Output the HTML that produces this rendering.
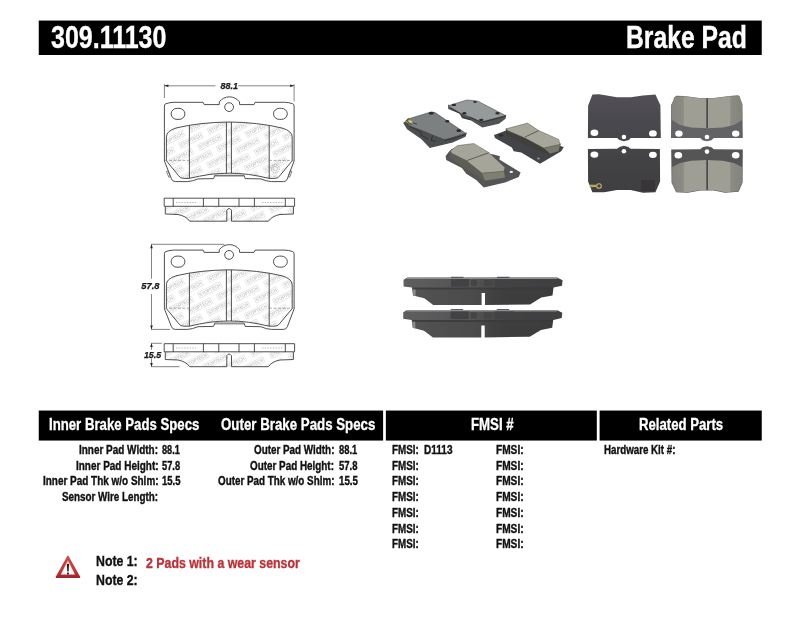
<!DOCTYPE html>
<html>
<head>
<meta charset="utf-8">
<title>309.11130 Brake Pad</title>
<style>
html,body{margin:0;padding:0;background:#fff;}
body{width:800px;height:619px;position:relative;overflow:hidden;font-family:"Liberation Sans",sans-serif;}
.bar{position:absolute;background:#000;}
.t{position:absolute;white-space:nowrap;font-weight:bold;transform-origin:0 0;line-height:normal;font-family:"Liberation Sans",sans-serif;}
svg{position:absolute;left:0;top:0;}
</style>
</head>
<body>
<svg width="800" height="619" viewBox="0 0 800 619">
<rect x="38.75" y="20.55" width="723" height="34.45" fill="#000"/>
<rect x="38.75" y="410.55" width="344.35" height="30" fill="#000"/>
<rect x="385.85" y="410.55" width="210.95" height="30" fill="#000"/>
<rect x="599.6" y="410.55" width="162.15" height="30" fill="#000"/>
</svg>
<svg width="800" height="619" viewBox="0 0 800 619">
<defs>
  <filter id="soft" x="-5%" y="-5%" width="110%" height="110%"><feGaussianBlur stdDeviation="0.42"/></filter>
  <clipPath id="fr"><path d="M166.4,160.8 L166.4,137 Q166.4,131 176,128 Q200,122.3 229,122 Q258,122.3 282,128 Q292.2,131 292.2,137 L292.2,160.8 L280.1,175.3 Q278.4,178.4 274.8,178.4 L269.1,178.4 Q259.4,176 248.4,174.4 Q238.4,173.2 229.2,173.2 Q220,173.2 210,174.4 Q199,176 189.3,178.4 L183.6,178.4 Q180,178.4 178.3,175.3 Z"/></clipPath>
  <clipPath id="sd"><path d="M165.3,206.6 L165.3,214 L178,214.5 Q186,216 189.7,221.2 L268.4,221.2 Q272,216 280,214.5 L293.4,214 L293.4,206.6 Z"/></clipPath>
  <g id="wm" font-family="Liberation Sans, sans-serif" font-weight="bold" font-size="5" fill="#c8c8c8" stroke="none">
    <g transform="rotate(-27 229 150)">
<rect x="139" y="91.4" width="25" height="5.8" fill="none" stroke="#cfcfcf" stroke-width="0.45"/><text x="140" y="96" textLength="23" lengthAdjust="spacingAndGlyphs">STOPTECH</text>
<rect x="171" y="91.4" width="25" height="5.8" fill="none" stroke="#cfcfcf" stroke-width="0.45"/><text x="172" y="96" textLength="23" lengthAdjust="spacingAndGlyphs">STOPTECH</text>
<rect x="203" y="91.4" width="25" height="5.8" fill="none" stroke="#cfcfcf" stroke-width="0.45"/><text x="204" y="96" textLength="23" lengthAdjust="spacingAndGlyphs">STOPTECH</text>
<rect x="235" y="91.4" width="25" height="5.8" fill="none" stroke="#cfcfcf" stroke-width="0.45"/><text x="236" y="96" textLength="23" lengthAdjust="spacingAndGlyphs">STOPTECH</text>
<rect x="267" y="91.4" width="25" height="5.8" fill="none" stroke="#cfcfcf" stroke-width="0.45"/><text x="268" y="96" textLength="23" lengthAdjust="spacingAndGlyphs">STOPTECH</text>
<rect x="299" y="91.4" width="25" height="5.8" fill="none" stroke="#cfcfcf" stroke-width="0.45"/><text x="300" y="96" textLength="23" lengthAdjust="spacingAndGlyphs">STOPTECH</text>
<rect x="331" y="91.4" width="25" height="5.8" fill="none" stroke="#cfcfcf" stroke-width="0.45"/><text x="332" y="96" textLength="23" lengthAdjust="spacingAndGlyphs">STOPTECH</text>
<rect x="155" y="101.4" width="25" height="5.8" fill="none" stroke="#cfcfcf" stroke-width="0.45"/><text x="156" y="106" textLength="23" lengthAdjust="spacingAndGlyphs">STOPTECH</text>
<rect x="187" y="101.4" width="25" height="5.8" fill="none" stroke="#cfcfcf" stroke-width="0.45"/><text x="188" y="106" textLength="23" lengthAdjust="spacingAndGlyphs">STOPTECH</text>
<rect x="219" y="101.4" width="25" height="5.8" fill="none" stroke="#cfcfcf" stroke-width="0.45"/><text x="220" y="106" textLength="23" lengthAdjust="spacingAndGlyphs">STOPTECH</text>
<rect x="251" y="101.4" width="25" height="5.8" fill="none" stroke="#cfcfcf" stroke-width="0.45"/><text x="252" y="106" textLength="23" lengthAdjust="spacingAndGlyphs">STOPTECH</text>
<rect x="283" y="101.4" width="25" height="5.8" fill="none" stroke="#cfcfcf" stroke-width="0.45"/><text x="284" y="106" textLength="23" lengthAdjust="spacingAndGlyphs">STOPTECH</text>
<rect x="315" y="101.4" width="25" height="5.8" fill="none" stroke="#cfcfcf" stroke-width="0.45"/><text x="316" y="106" textLength="23" lengthAdjust="spacingAndGlyphs">STOPTECH</text>
<rect x="347" y="101.4" width="25" height="5.8" fill="none" stroke="#cfcfcf" stroke-width="0.45"/><text x="348" y="106" textLength="23" lengthAdjust="spacingAndGlyphs">STOPTECH</text>
<rect x="139" y="111.4" width="25" height="5.8" fill="none" stroke="#cfcfcf" stroke-width="0.45"/><text x="140" y="116" textLength="23" lengthAdjust="spacingAndGlyphs">STOPTECH</text>
<rect x="171" y="111.4" width="25" height="5.8" fill="none" stroke="#cfcfcf" stroke-width="0.45"/><text x="172" y="116" textLength="23" lengthAdjust="spacingAndGlyphs">STOPTECH</text>
<rect x="203" y="111.4" width="25" height="5.8" fill="none" stroke="#cfcfcf" stroke-width="0.45"/><text x="204" y="116" textLength="23" lengthAdjust="spacingAndGlyphs">STOPTECH</text>
<rect x="235" y="111.4" width="25" height="5.8" fill="none" stroke="#cfcfcf" stroke-width="0.45"/><text x="236" y="116" textLength="23" lengthAdjust="spacingAndGlyphs">STOPTECH</text>
<rect x="267" y="111.4" width="25" height="5.8" fill="none" stroke="#cfcfcf" stroke-width="0.45"/><text x="268" y="116" textLength="23" lengthAdjust="spacingAndGlyphs">STOPTECH</text>
<rect x="299" y="111.4" width="25" height="5.8" fill="none" stroke="#cfcfcf" stroke-width="0.45"/><text x="300" y="116" textLength="23" lengthAdjust="spacingAndGlyphs">STOPTECH</text>
<rect x="331" y="111.4" width="25" height="5.8" fill="none" stroke="#cfcfcf" stroke-width="0.45"/><text x="332" y="116" textLength="23" lengthAdjust="spacingAndGlyphs">STOPTECH</text>
<rect x="155" y="121.4" width="25" height="5.8" fill="none" stroke="#cfcfcf" stroke-width="0.45"/><text x="156" y="126" textLength="23" lengthAdjust="spacingAndGlyphs">STOPTECH</text>
<rect x="187" y="121.4" width="25" height="5.8" fill="none" stroke="#cfcfcf" stroke-width="0.45"/><text x="188" y="126" textLength="23" lengthAdjust="spacingAndGlyphs">STOPTECH</text>
<rect x="219" y="121.4" width="25" height="5.8" fill="none" stroke="#cfcfcf" stroke-width="0.45"/><text x="220" y="126" textLength="23" lengthAdjust="spacingAndGlyphs">STOPTECH</text>
<rect x="251" y="121.4" width="25" height="5.8" fill="none" stroke="#cfcfcf" stroke-width="0.45"/><text x="252" y="126" textLength="23" lengthAdjust="spacingAndGlyphs">STOPTECH</text>
<rect x="283" y="121.4" width="25" height="5.8" fill="none" stroke="#cfcfcf" stroke-width="0.45"/><text x="284" y="126" textLength="23" lengthAdjust="spacingAndGlyphs">STOPTECH</text>
<rect x="315" y="121.4" width="25" height="5.8" fill="none" stroke="#cfcfcf" stroke-width="0.45"/><text x="316" y="126" textLength="23" lengthAdjust="spacingAndGlyphs">STOPTECH</text>
<rect x="347" y="121.4" width="25" height="5.8" fill="none" stroke="#cfcfcf" stroke-width="0.45"/><text x="348" y="126" textLength="23" lengthAdjust="spacingAndGlyphs">STOPTECH</text>
<rect x="139" y="131.4" width="25" height="5.8" fill="none" stroke="#cfcfcf" stroke-width="0.45"/><text x="140" y="136" textLength="23" lengthAdjust="spacingAndGlyphs">STOPTECH</text>
<rect x="171" y="131.4" width="25" height="5.8" fill="none" stroke="#cfcfcf" stroke-width="0.45"/><text x="172" y="136" textLength="23" lengthAdjust="spacingAndGlyphs">STOPTECH</text>
<rect x="203" y="131.4" width="25" height="5.8" fill="none" stroke="#cfcfcf" stroke-width="0.45"/><text x="204" y="136" textLength="23" lengthAdjust="spacingAndGlyphs">STOPTECH</text>
<rect x="235" y="131.4" width="25" height="5.8" fill="none" stroke="#cfcfcf" stroke-width="0.45"/><text x="236" y="136" textLength="23" lengthAdjust="spacingAndGlyphs">STOPTECH</text>
<rect x="267" y="131.4" width="25" height="5.8" fill="none" stroke="#cfcfcf" stroke-width="0.45"/><text x="268" y="136" textLength="23" lengthAdjust="spacingAndGlyphs">STOPTECH</text>
<rect x="299" y="131.4" width="25" height="5.8" fill="none" stroke="#cfcfcf" stroke-width="0.45"/><text x="300" y="136" textLength="23" lengthAdjust="spacingAndGlyphs">STOPTECH</text>
<rect x="331" y="131.4" width="25" height="5.8" fill="none" stroke="#cfcfcf" stroke-width="0.45"/><text x="332" y="136" textLength="23" lengthAdjust="spacingAndGlyphs">STOPTECH</text>
<rect x="155" y="141.4" width="25" height="5.8" fill="none" stroke="#cfcfcf" stroke-width="0.45"/><text x="156" y="146" textLength="23" lengthAdjust="spacingAndGlyphs">STOPTECH</text>
<rect x="187" y="141.4" width="25" height="5.8" fill="none" stroke="#cfcfcf" stroke-width="0.45"/><text x="188" y="146" textLength="23" lengthAdjust="spacingAndGlyphs">STOPTECH</text>
<rect x="219" y="141.4" width="25" height="5.8" fill="none" stroke="#cfcfcf" stroke-width="0.45"/><text x="220" y="146" textLength="23" lengthAdjust="spacingAndGlyphs">STOPTECH</text>
<rect x="251" y="141.4" width="25" height="5.8" fill="none" stroke="#cfcfcf" stroke-width="0.45"/><text x="252" y="146" textLength="23" lengthAdjust="spacingAndGlyphs">STOPTECH</text>
<rect x="283" y="141.4" width="25" height="5.8" fill="none" stroke="#cfcfcf" stroke-width="0.45"/><text x="284" y="146" textLength="23" lengthAdjust="spacingAndGlyphs">STOPTECH</text>
<rect x="315" y="141.4" width="25" height="5.8" fill="none" stroke="#cfcfcf" stroke-width="0.45"/><text x="316" y="146" textLength="23" lengthAdjust="spacingAndGlyphs">STOPTECH</text>
<rect x="347" y="141.4" width="25" height="5.8" fill="none" stroke="#cfcfcf" stroke-width="0.45"/><text x="348" y="146" textLength="23" lengthAdjust="spacingAndGlyphs">STOPTECH</text>
<rect x="139" y="151.4" width="25" height="5.8" fill="none" stroke="#cfcfcf" stroke-width="0.45"/><text x="140" y="156" textLength="23" lengthAdjust="spacingAndGlyphs">STOPTECH</text>
<rect x="171" y="151.4" width="25" height="5.8" fill="none" stroke="#cfcfcf" stroke-width="0.45"/><text x="172" y="156" textLength="23" lengthAdjust="spacingAndGlyphs">STOPTECH</text>
<rect x="203" y="151.4" width="25" height="5.8" fill="none" stroke="#cfcfcf" stroke-width="0.45"/><text x="204" y="156" textLength="23" lengthAdjust="spacingAndGlyphs">STOPTECH</text>
<rect x="235" y="151.4" width="25" height="5.8" fill="none" stroke="#cfcfcf" stroke-width="0.45"/><text x="236" y="156" textLength="23" lengthAdjust="spacingAndGlyphs">STOPTECH</text>
<rect x="267" y="151.4" width="25" height="5.8" fill="none" stroke="#cfcfcf" stroke-width="0.45"/><text x="268" y="156" textLength="23" lengthAdjust="spacingAndGlyphs">STOPTECH</text>
<rect x="299" y="151.4" width="25" height="5.8" fill="none" stroke="#cfcfcf" stroke-width="0.45"/><text x="300" y="156" textLength="23" lengthAdjust="spacingAndGlyphs">STOPTECH</text>
<rect x="331" y="151.4" width="25" height="5.8" fill="none" stroke="#cfcfcf" stroke-width="0.45"/><text x="332" y="156" textLength="23" lengthAdjust="spacingAndGlyphs">STOPTECH</text>
<rect x="155" y="161.4" width="25" height="5.8" fill="none" stroke="#cfcfcf" stroke-width="0.45"/><text x="156" y="166" textLength="23" lengthAdjust="spacingAndGlyphs">STOPTECH</text>
<rect x="187" y="161.4" width="25" height="5.8" fill="none" stroke="#cfcfcf" stroke-width="0.45"/><text x="188" y="166" textLength="23" lengthAdjust="spacingAndGlyphs">STOPTECH</text>
<rect x="219" y="161.4" width="25" height="5.8" fill="none" stroke="#cfcfcf" stroke-width="0.45"/><text x="220" y="166" textLength="23" lengthAdjust="spacingAndGlyphs">STOPTECH</text>
<rect x="251" y="161.4" width="25" height="5.8" fill="none" stroke="#cfcfcf" stroke-width="0.45"/><text x="252" y="166" textLength="23" lengthAdjust="spacingAndGlyphs">STOPTECH</text>
<rect x="283" y="161.4" width="25" height="5.8" fill="none" stroke="#cfcfcf" stroke-width="0.45"/><text x="284" y="166" textLength="23" lengthAdjust="spacingAndGlyphs">STOPTECH</text>
<rect x="315" y="161.4" width="25" height="5.8" fill="none" stroke="#cfcfcf" stroke-width="0.45"/><text x="316" y="166" textLength="23" lengthAdjust="spacingAndGlyphs">STOPTECH</text>
<rect x="347" y="161.4" width="25" height="5.8" fill="none" stroke="#cfcfcf" stroke-width="0.45"/><text x="348" y="166" textLength="23" lengthAdjust="spacingAndGlyphs">STOPTECH</text>
<rect x="139" y="171.4" width="25" height="5.8" fill="none" stroke="#cfcfcf" stroke-width="0.45"/><text x="140" y="176" textLength="23" lengthAdjust="spacingAndGlyphs">STOPTECH</text>
<rect x="171" y="171.4" width="25" height="5.8" fill="none" stroke="#cfcfcf" stroke-width="0.45"/><text x="172" y="176" textLength="23" lengthAdjust="spacingAndGlyphs">STOPTECH</text>
<rect x="203" y="171.4" width="25" height="5.8" fill="none" stroke="#cfcfcf" stroke-width="0.45"/><text x="204" y="176" textLength="23" lengthAdjust="spacingAndGlyphs">STOPTECH</text>
<rect x="235" y="171.4" width="25" height="5.8" fill="none" stroke="#cfcfcf" stroke-width="0.45"/><text x="236" y="176" textLength="23" lengthAdjust="spacingAndGlyphs">STOPTECH</text>
<rect x="267" y="171.4" width="25" height="5.8" fill="none" stroke="#cfcfcf" stroke-width="0.45"/><text x="268" y="176" textLength="23" lengthAdjust="spacingAndGlyphs">STOPTECH</text>
<rect x="299" y="171.4" width="25" height="5.8" fill="none" stroke="#cfcfcf" stroke-width="0.45"/><text x="300" y="176" textLength="23" lengthAdjust="spacingAndGlyphs">STOPTECH</text>
<rect x="331" y="171.4" width="25" height="5.8" fill="none" stroke="#cfcfcf" stroke-width="0.45"/><text x="332" y="176" textLength="23" lengthAdjust="spacingAndGlyphs">STOPTECH</text>
<rect x="155" y="181.4" width="25" height="5.8" fill="none" stroke="#cfcfcf" stroke-width="0.45"/><text x="156" y="186" textLength="23" lengthAdjust="spacingAndGlyphs">STOPTECH</text>
<rect x="187" y="181.4" width="25" height="5.8" fill="none" stroke="#cfcfcf" stroke-width="0.45"/><text x="188" y="186" textLength="23" lengthAdjust="spacingAndGlyphs">STOPTECH</text>
<rect x="219" y="181.4" width="25" height="5.8" fill="none" stroke="#cfcfcf" stroke-width="0.45"/><text x="220" y="186" textLength="23" lengthAdjust="spacingAndGlyphs">STOPTECH</text>
<rect x="251" y="181.4" width="25" height="5.8" fill="none" stroke="#cfcfcf" stroke-width="0.45"/><text x="252" y="186" textLength="23" lengthAdjust="spacingAndGlyphs">STOPTECH</text>
<rect x="283" y="181.4" width="25" height="5.8" fill="none" stroke="#cfcfcf" stroke-width="0.45"/><text x="284" y="186" textLength="23" lengthAdjust="spacingAndGlyphs">STOPTECH</text>
<rect x="315" y="181.4" width="25" height="5.8" fill="none" stroke="#cfcfcf" stroke-width="0.45"/><text x="316" y="186" textLength="23" lengthAdjust="spacingAndGlyphs">STOPTECH</text>
<rect x="347" y="181.4" width="25" height="5.8" fill="none" stroke="#cfcfcf" stroke-width="0.45"/><text x="348" y="186" textLength="23" lengthAdjust="spacingAndGlyphs">STOPTECH</text>
<rect x="139" y="191.4" width="25" height="5.8" fill="none" stroke="#cfcfcf" stroke-width="0.45"/><text x="140" y="196" textLength="23" lengthAdjust="spacingAndGlyphs">STOPTECH</text>
<rect x="171" y="191.4" width="25" height="5.8" fill="none" stroke="#cfcfcf" stroke-width="0.45"/><text x="172" y="196" textLength="23" lengthAdjust="spacingAndGlyphs">STOPTECH</text>
<rect x="203" y="191.4" width="25" height="5.8" fill="none" stroke="#cfcfcf" stroke-width="0.45"/><text x="204" y="196" textLength="23" lengthAdjust="spacingAndGlyphs">STOPTECH</text>
<rect x="235" y="191.4" width="25" height="5.8" fill="none" stroke="#cfcfcf" stroke-width="0.45"/><text x="236" y="196" textLength="23" lengthAdjust="spacingAndGlyphs">STOPTECH</text>
<rect x="267" y="191.4" width="25" height="5.8" fill="none" stroke="#cfcfcf" stroke-width="0.45"/><text x="268" y="196" textLength="23" lengthAdjust="spacingAndGlyphs">STOPTECH</text>
<rect x="299" y="191.4" width="25" height="5.8" fill="none" stroke="#cfcfcf" stroke-width="0.45"/><text x="300" y="196" textLength="23" lengthAdjust="spacingAndGlyphs">STOPTECH</text>
<rect x="331" y="191.4" width="25" height="5.8" fill="none" stroke="#cfcfcf" stroke-width="0.45"/><text x="332" y="196" textLength="23" lengthAdjust="spacingAndGlyphs">STOPTECH</text>
<rect x="155" y="201.4" width="25" height="5.8" fill="none" stroke="#cfcfcf" stroke-width="0.45"/><text x="156" y="206" textLength="23" lengthAdjust="spacingAndGlyphs">STOPTECH</text>
<rect x="187" y="201.4" width="25" height="5.8" fill="none" stroke="#cfcfcf" stroke-width="0.45"/><text x="188" y="206" textLength="23" lengthAdjust="spacingAndGlyphs">STOPTECH</text>
<rect x="219" y="201.4" width="25" height="5.8" fill="none" stroke="#cfcfcf" stroke-width="0.45"/><text x="220" y="206" textLength="23" lengthAdjust="spacingAndGlyphs">STOPTECH</text>
<rect x="251" y="201.4" width="25" height="5.8" fill="none" stroke="#cfcfcf" stroke-width="0.45"/><text x="252" y="206" textLength="23" lengthAdjust="spacingAndGlyphs">STOPTECH</text>
<rect x="283" y="201.4" width="25" height="5.8" fill="none" stroke="#cfcfcf" stroke-width="0.45"/><text x="284" y="206" textLength="23" lengthAdjust="spacingAndGlyphs">STOPTECH</text>
<rect x="315" y="201.4" width="25" height="5.8" fill="none" stroke="#cfcfcf" stroke-width="0.45"/><text x="316" y="206" textLength="23" lengthAdjust="spacingAndGlyphs">STOPTECH</text>
<rect x="347" y="201.4" width="25" height="5.8" fill="none" stroke="#cfcfcf" stroke-width="0.45"/><text x="348" y="206" textLength="23" lengthAdjust="spacingAndGlyphs">STOPTECH</text>
<rect x="139" y="211.4" width="25" height="5.8" fill="none" stroke="#cfcfcf" stroke-width="0.45"/><text x="140" y="216" textLength="23" lengthAdjust="spacingAndGlyphs">STOPTECH</text>
<rect x="171" y="211.4" width="25" height="5.8" fill="none" stroke="#cfcfcf" stroke-width="0.45"/><text x="172" y="216" textLength="23" lengthAdjust="spacingAndGlyphs">STOPTECH</text>
<rect x="203" y="211.4" width="25" height="5.8" fill="none" stroke="#cfcfcf" stroke-width="0.45"/><text x="204" y="216" textLength="23" lengthAdjust="spacingAndGlyphs">STOPTECH</text>
<rect x="235" y="211.4" width="25" height="5.8" fill="none" stroke="#cfcfcf" stroke-width="0.45"/><text x="236" y="216" textLength="23" lengthAdjust="spacingAndGlyphs">STOPTECH</text>
<rect x="267" y="211.4" width="25" height="5.8" fill="none" stroke="#cfcfcf" stroke-width="0.45"/><text x="268" y="216" textLength="23" lengthAdjust="spacingAndGlyphs">STOPTECH</text>
<rect x="299" y="211.4" width="25" height="5.8" fill="none" stroke="#cfcfcf" stroke-width="0.45"/><text x="300" y="216" textLength="23" lengthAdjust="spacingAndGlyphs">STOPTECH</text>
<rect x="331" y="211.4" width="25" height="5.8" fill="none" stroke="#cfcfcf" stroke-width="0.45"/><text x="332" y="216" textLength="23" lengthAdjust="spacingAndGlyphs">STOPTECH</text>
<rect x="155" y="221.4" width="25" height="5.8" fill="none" stroke="#cfcfcf" stroke-width="0.45"/><text x="156" y="226" textLength="23" lengthAdjust="spacingAndGlyphs">STOPTECH</text>
<rect x="187" y="221.4" width="25" height="5.8" fill="none" stroke="#cfcfcf" stroke-width="0.45"/><text x="188" y="226" textLength="23" lengthAdjust="spacingAndGlyphs">STOPTECH</text>
<rect x="219" y="221.4" width="25" height="5.8" fill="none" stroke="#cfcfcf" stroke-width="0.45"/><text x="220" y="226" textLength="23" lengthAdjust="spacingAndGlyphs">STOPTECH</text>
<rect x="251" y="221.4" width="25" height="5.8" fill="none" stroke="#cfcfcf" stroke-width="0.45"/><text x="252" y="226" textLength="23" lengthAdjust="spacingAndGlyphs">STOPTECH</text>
<rect x="283" y="221.4" width="25" height="5.8" fill="none" stroke="#cfcfcf" stroke-width="0.45"/><text x="284" y="226" textLength="23" lengthAdjust="spacingAndGlyphs">STOPTECH</text>
<rect x="315" y="221.4" width="25" height="5.8" fill="none" stroke="#cfcfcf" stroke-width="0.45"/><text x="316" y="226" textLength="23" lengthAdjust="spacingAndGlyphs">STOPTECH</text>
<rect x="347" y="221.4" width="25" height="5.8" fill="none" stroke="#cfcfcf" stroke-width="0.45"/><text x="348" y="226" textLength="23" lengthAdjust="spacingAndGlyphs">STOPTECH</text>
<rect x="139" y="231.4" width="25" height="5.8" fill="none" stroke="#cfcfcf" stroke-width="0.45"/><text x="140" y="236" textLength="23" lengthAdjust="spacingAndGlyphs">STOPTECH</text>
<rect x="171" y="231.4" width="25" height="5.8" fill="none" stroke="#cfcfcf" stroke-width="0.45"/><text x="172" y="236" textLength="23" lengthAdjust="spacingAndGlyphs">STOPTECH</text>
<rect x="203" y="231.4" width="25" height="5.8" fill="none" stroke="#cfcfcf" stroke-width="0.45"/><text x="204" y="236" textLength="23" lengthAdjust="spacingAndGlyphs">STOPTECH</text>
<rect x="235" y="231.4" width="25" height="5.8" fill="none" stroke="#cfcfcf" stroke-width="0.45"/><text x="236" y="236" textLength="23" lengthAdjust="spacingAndGlyphs">STOPTECH</text>
<rect x="267" y="231.4" width="25" height="5.8" fill="none" stroke="#cfcfcf" stroke-width="0.45"/><text x="268" y="236" textLength="23" lengthAdjust="spacingAndGlyphs">STOPTECH</text>
<rect x="299" y="231.4" width="25" height="5.8" fill="none" stroke="#cfcfcf" stroke-width="0.45"/><text x="300" y="236" textLength="23" lengthAdjust="spacingAndGlyphs">STOPTECH</text>
<rect x="331" y="231.4" width="25" height="5.8" fill="none" stroke="#cfcfcf" stroke-width="0.45"/><text x="332" y="236" textLength="23" lengthAdjust="spacingAndGlyphs">STOPTECH</text>
<rect x="155" y="241.4" width="25" height="5.8" fill="none" stroke="#cfcfcf" stroke-width="0.45"/><text x="156" y="246" textLength="23" lengthAdjust="spacingAndGlyphs">STOPTECH</text>
<rect x="187" y="241.4" width="25" height="5.8" fill="none" stroke="#cfcfcf" stroke-width="0.45"/><text x="188" y="246" textLength="23" lengthAdjust="spacingAndGlyphs">STOPTECH</text>
<rect x="219" y="241.4" width="25" height="5.8" fill="none" stroke="#cfcfcf" stroke-width="0.45"/><text x="220" y="246" textLength="23" lengthAdjust="spacingAndGlyphs">STOPTECH</text>
<rect x="251" y="241.4" width="25" height="5.8" fill="none" stroke="#cfcfcf" stroke-width="0.45"/><text x="252" y="246" textLength="23" lengthAdjust="spacingAndGlyphs">STOPTECH</text>
<rect x="283" y="241.4" width="25" height="5.8" fill="none" stroke="#cfcfcf" stroke-width="0.45"/><text x="284" y="246" textLength="23" lengthAdjust="spacingAndGlyphs">STOPTECH</text>
<rect x="315" y="241.4" width="25" height="5.8" fill="none" stroke="#cfcfcf" stroke-width="0.45"/><text x="316" y="246" textLength="23" lengthAdjust="spacingAndGlyphs">STOPTECH</text>
<rect x="347" y="241.4" width="25" height="5.8" fill="none" stroke="#cfcfcf" stroke-width="0.45"/><text x="348" y="246" textLength="23" lengthAdjust="spacingAndGlyphs">STOPTECH</text>
<rect x="139" y="251.4" width="25" height="5.8" fill="none" stroke="#cfcfcf" stroke-width="0.45"/><text x="140" y="256" textLength="23" lengthAdjust="spacingAndGlyphs">STOPTECH</text>
<rect x="171" y="251.4" width="25" height="5.8" fill="none" stroke="#cfcfcf" stroke-width="0.45"/><text x="172" y="256" textLength="23" lengthAdjust="spacingAndGlyphs">STOPTECH</text>
<rect x="203" y="251.4" width="25" height="5.8" fill="none" stroke="#cfcfcf" stroke-width="0.45"/><text x="204" y="256" textLength="23" lengthAdjust="spacingAndGlyphs">STOPTECH</text>
<rect x="235" y="251.4" width="25" height="5.8" fill="none" stroke="#cfcfcf" stroke-width="0.45"/><text x="236" y="256" textLength="23" lengthAdjust="spacingAndGlyphs">STOPTECH</text>
<rect x="267" y="251.4" width="25" height="5.8" fill="none" stroke="#cfcfcf" stroke-width="0.45"/><text x="268" y="256" textLength="23" lengthAdjust="spacingAndGlyphs">STOPTECH</text>
<rect x="299" y="251.4" width="25" height="5.8" fill="none" stroke="#cfcfcf" stroke-width="0.45"/><text x="300" y="256" textLength="23" lengthAdjust="spacingAndGlyphs">STOPTECH</text>
<rect x="331" y="251.4" width="25" height="5.8" fill="none" stroke="#cfcfcf" stroke-width="0.45"/><text x="332" y="256" textLength="23" lengthAdjust="spacingAndGlyphs">STOPTECH</text>
    </g>
  </g>
  <g id="front" fill="none" stroke="#3c3c3c" stroke-width="0.9" stroke-linejoin="round">
    <g clip-path="url(#fr)"><use href="#wm"/></g>
    <!-- backing plate -->
    <path d="M164.4,106 Q164.4,104.1 166,103.7 Q170,102.3 174,102.3 L203.1,102.3 L204.2,104.6 L219.2,104.6 L219.3,101.9 A12.6,12.6 0 0 1 239.5,101.9 L239.6,104.6 L254,104.6 L255.1,102.3 L284.6,102.3 Q288.6,102.3 292.5,103.7 Q294.1,104.1 294.1,106 L294.1,161 L287.3,179 Q286.2,181.6 283.6,181.6 L271.3,181.6 Q266.8,181.4 260.8,178.9 L245.2,178.6 L244,175.3 L214.8,175.3 L213.6,178.6 L198,178.9 Q192,181.4 187.5,181.6 L175.2,181.6 Q172.6,181.6 171.5,179 L164.4,161 Z"/>
    <!-- friction -->
    <path d="M166.4,160.8 L166.4,137 Q166.4,131 176,128 Q200,122.3 229,122 Q258,122.3 282,128 Q292.2,131 292.2,137 L292.2,160.8 L280.1,175.3 Q278.4,178.4 274.8,178.4 L269.1,178.4 Q259.4,176 248.4,174.4 Q238.4,173.2 229.2,173.2 Q220,173.2 210,174.4 Q199,176 189.3,178.4 L183.6,178.4 Q180,178.4 178.3,175.3 Z"/>
    <path d="M215,176.3 H243.8" stroke="#888" stroke-width="0.7"/>
    <line x1="189.4" y1="125.3" x2="189.4" y2="178.4"/>
    <line x1="269.2" y1="125.3" x2="269.2" y2="178.4"/>
    <path d="M226.4,122 L226.4,173.2 M231.4,173.2 L231.4,122"/>
    <path d="M164.4,160.4 H190 M269,160.4 H294.1" stroke-dasharray="3 1.5" stroke-width="0.6" stroke="#777"/>
    <circle cx="229.1" cy="107.1" r="4.4"/>
    <rect x="171.1" y="108.3" width="13.8" height="11.1" rx="5.9" ry="5.55"/>
    <rect x="273.5" y="108.3" width="13.8" height="11.1" rx="5.9" ry="5.55"/>
  </g>
  <g id="side" fill="none" stroke="#3c3c3c" stroke-width="0.9" stroke-linejoin="round">
    <g clip-path="url(#sd)"><use href="#wm" transform="translate(6 40)"/></g>
    <rect x="164.2" y="198.2" width="130.4" height="8.1"/>
    <path d="M173.2,198.1 V206.6 M203.4,198.1 V206.6 M218.75,198.1 V206.6 M239,198.1 V206.6 M254.4,198.1 V206.6 M285.3,198.1 V206.6"/>
    <path d="M165.3,206.6 L165.3,214 L178,214.5 Q186,216 189.7,221.2 L226.8,221.2 L226.8,210.2 Q229.15,206.8 231.5,210.2 L231.5,221.2 L268.4,221.2 Q272,216 280,214.5 L293.4,214 L293.4,206.6"/>
    <path d="M176,202.5 H196 M262,202.5 H283" stroke-dasharray="1.5 1.2" stroke-width="0.5" stroke="#777"/>
  </g>
</defs>
<g filter="url(#soft)">
  <!-- drawing 1 -->
  <use href="#front"/>
  <use href="#side"/>
  <!-- clip tabs + wear indicator on drawing 1 -->
  <g fill="none" stroke="#555" stroke-width="0.7">
    <path d="M166.6,171.4 L168.2,171 L170.3,176.6 L168.8,177.3 Z"/>
    <path d="M291.9,171.4 L290.3,171 L288.2,176.6 L289.7,177.3 Z"/>
    <circle cx="275.2" cy="168.6" r="4.1" stroke="#8a8a8a" stroke-dasharray="1.6 0.9"/>
    <circle cx="275.2" cy="168.6" r="2.2" stroke="#aaa"/>
  </g>
  <!-- drawing 2 -->
  <use href="#front" transform="translate(0 147.8)"/>
  <use href="#side" transform="translate(0 145.5)"/>
  <!-- dimension 88.1 -->
  <g stroke="#5a5a5a" stroke-width="0.75" fill="none">
    <path d="M164.4,84.2 V98 M294.1,84.2 V101.3"/>
    <path d="M164.4,85.8 H215.4 M238.2,85.8 H294.1"/>
  </g>
  <path d="M164.4,85.8 l4,-1.3 v2.6 z M294.1,85.8 l-4,-1.3 v2.6 z" fill="#222"/>
  <!-- dimension 57.8 -->
  <g stroke="#5a5a5a" stroke-width="0.75" fill="none">
    <path d="M151.5,244.3 V278.7 M151.5,294 V329.4"/>
    <path d="M151.2,244.3 H224.5 M151.2,329.4 H170"/>
  </g>
  <path d="M151.5,244.3 l-1.3,4 h2.6 z M151.5,329.4 l-1.3,-4 h2.6 z" fill="#222"/>
  <!-- dimension 15.5 -->
  <g stroke="#5a5a5a" stroke-width="0.75" fill="none">
    <path d="M151.5,343.3 V349.8 M151.5,358.4 V366.7"/>
    <path d="M151.2,343.3 H161.8 M151.2,366.7 H179.6"/>
  </g>
  <path d="M151.5,343.3 l-1.3,3.6 h2.6 z M151.5,366.7 l-1.3,-3.6 h2.6 z" fill="#222"/>
  <g font-family="Liberation Sans, sans-serif" font-weight="bold" font-style="italic" font-size="8.6" fill="#1c1c1c" stroke="#1c1c1c" stroke-width="0.25">
    <text x="220.5" y="88.5" textLength="17.4" lengthAdjust="spacingAndGlyphs">88.1</text>
    <text x="141.3" y="289.3" textLength="18.2" lengthAdjust="spacingAndGlyphs">57.8</text>
    <text x="143.9" y="357.8" textLength="17.3" lengthAdjust="spacingAndGlyphs">15.5</text>
  </g>
</g>
</svg>
<svg width="800" height="619" viewBox="0 0 800 619">
<defs>
  <filter id="pb" x="-5%" y="-5%" width="110%" height="110%"><feGaussianBlur stdDeviation="0.55"/></filter>
  <linearGradient id="gTL" x1="0" y1="0" x2="0" y2="1"><stop offset="0" stop-color="#525156"/><stop offset="0.4" stop-color="#4c4b50"/><stop offset="1" stop-color="#46454a"/></linearGradient>
  <linearGradient id="gBL" x1="0" y1="0" x2="0" y2="1"><stop offset="0" stop-color="#454547"/><stop offset="1" stop-color="#3f3e41"/></linearGradient>
  <linearGradient id="gFr" x1="0" y1="0" x2="1" y2="0"><stop offset="0" stop-color="#85857e"/><stop offset="0.16" stop-color="#8c8c84"/><stop offset="0.18" stop-color="#9f9e94"/><stop offset="0.82" stop-color="#9f9e94"/><stop offset="0.84" stop-color="#8c8c84"/><stop offset="1" stop-color="#83837c"/></linearGradient>
  <linearGradient id="gEf" gradientUnits="userSpaceOnUse" x1="412" y1="0" x2="553" y2="0"><stop offset="0" stop-color="#535353"/><stop offset="0.45" stop-color="#4b4b4b"/><stop offset="0.6" stop-color="#3f3f3f"/><stop offset="1" stop-color="#3b3b3b"/></linearGradient>
  <linearGradient id="gEb" gradientUnits="userSpaceOnUse" x1="404" y1="0" x2="562" y2="0"><stop offset="0" stop-color="#5e5e5f"/><stop offset="0.45" stop-color="#535354"/><stop offset="0.65" stop-color="#434344"/><stop offset="1" stop-color="#3f3f40"/></linearGradient>
</defs>
<!-- ===== photo 2 : four front views ===== -->
<g filter="url(#pb)">
  <!-- top-left : dark shim side -->
  <path fill="url(#gTL)" d="M592.4,94.6 L599.1,94.2 L617.1,97.2 L630.6,97.2 L643,95.4 L655.4,94.6 L660.4,105.25 L660.8,137.9 L630.6,138.1 L629,140.1 L623.9,141.25 L619.4,140.1 L617.1,138.1 L587.9,137.9 L588.1,105.8 Z"/>
  <ellipse cx="594.4" cy="132.8" rx="3.9" ry="3.2" fill="#fff"/>
  <ellipse cx="652.9" cy="133.4" rx="3.9" ry="3.2" fill="#fff"/>
  <circle cx="623.9" cy="137" r="2.3" fill="#fff"/>
  <!-- bottom-left : dark shim side with wire -->
  <path fill="url(#gBL)" d="M587.9,149 L617.1,148.8 L619.4,147 L623.9,145.85 L628.4,147 L630.6,148.8 L659.9,149 L660.1,181.6 L655.4,192.3 L643,192.65 L630.6,190 L617.1,190 L604.2,192.3 L592.4,192.3 L588.1,181.6 Z"/>
  <ellipse cx="594.4" cy="154.6" rx="3.9" ry="3.2" fill="#fff"/>
  <ellipse cx="652.9" cy="154.85" rx="3.9" ry="3.2" fill="#fff"/>
  <circle cx="623.9" cy="151.25" r="2.3" fill="#fff"/>
  <rect x="641" y="180" width="14" height="11" fill="#373637"/>
  <g fill="none" stroke="#c9b263" stroke-width="1.1"><circle cx="599" cy="186" r="2.3"/><path d="M596.8,186.2 L589.6,187 M590,185.4 L596,185.2"/></g>
  <!-- top-right : friction side -->
  <path fill="#636465" d="M676.1,95.7 L684.5,96 L699.1,97.9 L713.75,97.9 L729.5,96 L738.5,95.35 L742.4,104.1 L742.8,137.9 L713.75,138.1 L711.5,140.35 L707,141.25 L702.5,140.35 L700.25,138.1 L671,137.9 L671.2,104.7 Z"/>
  <path fill="url(#gFr)" d="M674.4,96.8 L684.5,96.25 L699.1,98.3 L713.75,98.3 L729.5,96.25 L739.6,96 L742.1,104.1 L742.1,119.9 L734,124.9 L722.75,127.5 L707,128.3 L691.25,127.5 L680,124.9 L671.9,119.9 L671.9,104.1 Z"/>
  <rect x="706.3" y="98.3" width="1.7" height="30" fill="#4c4c4a"/>
  <ellipse cx="678.9" cy="133.6" rx="3.7" ry="3.2" fill="#fff"/>
  <ellipse cx="735.7" cy="133.6" rx="3.7" ry="3.2" fill="#fff"/>
  <circle cx="707" cy="137" r="2.3" fill="#fff"/>
  <!-- bottom-right : friction side -->
  <path fill="#545455" d="M671.2,149.6 L700.25,149.2 L702.5,147.3 L707,146.2 L711.5,147.3 L713.75,149.2 L742.8,149.6 L742.55,182.75 L738.5,191.75 L725,192.65 L713.75,190.4 L700.25,190.4 L687.9,192.65 L676.1,192.3 L671.6,182.75 Z"/>
  <path fill="url(#gFr)" d="M672.1,167 L680,163.1 L691.25,160.8 L707,160 L722.75,160.8 L734,163.1 L742.1,167 L742.1,182.75 L738.3,191.5 L725,192.3 L713.75,190.1 L700.25,190.1 L687.9,192.3 L676.4,192 L672.1,182.75 Z"/>
  <rect x="706.3" y="160" width="1.7" height="30" fill="#4c4c4a"/>
  <ellipse cx="678.3" cy="155.2" rx="3.8" ry="3.2" fill="#fff"/>
  <ellipse cx="735.7" cy="155.2" rx="3.8" ry="3.2" fill="#fff"/>
  <circle cx="707" cy="151.6" r="2.3" fill="#fff"/>
</g>

<!-- ===== photo 3 : two edge views ===== -->
<g filter="url(#pb)">
  <g id="edge">
    <path fill="url(#gEf)" d="M411.9,287 L553.6,287 L552.5,295.4 L541.25,297.6 L530,304.4 L485,305 L485,293.1 L481.6,293.1 L481.6,305 L433.25,305 L424.25,298.3 L413,295.4 Z"/>
    <path fill="#3a3a3a" d="M412.5,287.2 L553,287.2 L552.8,289.6 L412.8,289.6 Z" opacity="0.8"/>
    <path d="M412.6,289.4 L415.6,289.4 L415.6,296 L413.2,295.3 Z" fill="#8a8a8a"/>
    <rect x="451" y="276.8" width="12.5" height="2" fill="#3a3a3a"/>
    <rect x="497" y="276.8" width="12.5" height="2" fill="#333"/>
    <path fill="url(#gEb)" d="M403.55,279.8 L407.4,277.6 L557,277.6 L562.6,280.3 L562,285.7 L553.6,287.5 L411.9,287.5 L403.55,286.4 Z"/>
    <path d="M407,278.4 H557.5" stroke="#8c8e90" stroke-width="1.4" fill="none"/>
    <rect x="451" y="279" width="18" height="7.6" fill="#434344"/>
    <rect x="495" y="279" width="19" height="7.6" fill="#434344"/>
    <rect x="471" y="280" width="6" height="6" fill="#454545"/>
    <rect x="484" y="280" width="8" height="6" fill="#454545"/>
  </g>
  <use href="#edge" transform="translate(-0.3 32.4)"/>
</g>
<!-- ===== photo 1 : isometric group ===== -->
<g filter="url(#pb)">
  <!-- pad B (top, shim up) -->
  <path fill="#515355" stroke="#515355" stroke-width="1.2" d="M448.75,105.6 L461.25,113.75 L470,116.9 L481.25,121.9 L505.6,115.6 L505,118.5 L498.75,123.1 L482.5,126.9 L471.25,120 L462.5,117.75 L460,113.1 L448.75,108.5 Z"/>
  <path fill="#969a9a" stroke="#4a4c4e" stroke-width="0.6" d="M448.75,105.6 L466.9,100 L477.5,101 L505.6,115.6 L481.25,121.9 L470,116.9 L461.25,113.75 L450,106.9 Z"/>
  <g fill="#2c2d2e"><ellipse cx="453.9" cy="104.9" rx="2.2" ry="1.2"/><ellipse cx="475" cy="101.9" rx="1.8" ry="1"/><ellipse cx="497.5" cy="113.2" rx="2.2" ry="1.3"/><ellipse cx="481.3" cy="120" rx="2.2" ry="1.2"/><ellipse cx="464.4" cy="113.3" rx="2" ry="1.3"/></g>
  <!-- pad A (left, shim up, with sensor) -->
  <path fill="#4c4e50" stroke="#4c4e50" stroke-width="1.2" d="M408.75,125.6 L421.9,130.6 L432.5,135 L445,139.75 L466,133.5 L465,136.25 L452.5,141.9 L430,147.25 L421.9,138.75 L407.5,128.75 L404,123.1 L408.1,119 Z"/>
  <path fill="#7c8080" stroke="#3e4042" stroke-width="0.6" d="M408.1,119 L431.25,111.9 L435,112.6 L466,133.5 L445,139.75 L432.5,135 L421.9,130.6 L408.75,125.6 Z"/>
  <g fill="#2a2b2c"><ellipse cx="431.3" cy="113.3" rx="2.6" ry="1.4"/><ellipse cx="447.3" cy="121.3" rx="2.2" ry="1.2"/><ellipse cx="458.8" cy="130.7" rx="2.4" ry="1.4"/></g>
  <path d="M405,121.5 L410,120 L413.5,122.2 L409,123.6 Z" fill="#d9c466"/>
  <g fill="none" stroke="#2c2d2e" stroke-width="0.8" stroke-linecap="round">
    <path d="M410,126.8 L420.5,131.6 L421.5,135.2 L428,139.2 M432.6,135.6 L431,140.4 L436,141.6 M445,140.2 L452,139 L465,134.6"/>
    <path d="M413,122.6 L416.5,124.2 M407,121.2 L411.5,124.6"/>
    <path d="M451,108.4 L460.5,113.6 L462.8,117.2 L470.5,119.6 M470.2,117.4 L481.4,122.4 L504.8,116.4"/>
  </g>
  <!-- pad D (right, friction up) -->
  <path fill="#434547" d="M494,135 L506.25,130.6 L563.75,146.9 L561.25,151.25 L540,163.75 L521.25,152.5 L513.75,151.25 L511.9,147.5 L495,138.1 Z"/>
  <path fill="#423f3b" stroke="#423f3b" stroke-width="1.2" d="M506.25,128.75 L507.5,130.6 L525,138.1 L543.75,148.1 L560,144.4 L558.75,151.25 L550,153.75 L535,148.75 L520,141.25 L506.9,134.4 Z"/>
  <path fill="#7a796e" d="M543.75,148.1 L560,144.4 L558.75,151.25 L550,153.75 Z"/>
  <path fill="#a7a69a" stroke="#5a594f" stroke-width="0.5" d="M506.25,128.75 L527.5,123.1 L538.75,130.6 L558.75,139.4 L560,144.4 L543.75,148.1 L525,138.1 L507.5,130.6 Z"/>
  <path d="M538.75,130.6 L525,137" stroke="#55544c" stroke-width="0.9" fill="none"/>
  <ellipse cx="501" cy="135.2" rx="2.6" ry="1.3" fill="#2c2d2e"/>
  <ellipse cx="538.5" cy="158.5" rx="1.6" ry="1.1" fill="#8a8a8a"/>
  <!-- pad C (bottom, friction up) -->
  <path fill="#525456" d="M445.6,156.25 L448.75,151.9 L451.9,148.75 L493.75,154.4 L500,156.25 L499.4,159.4 L520.6,172.5 L518.75,176.9 L505,182.5 L483.75,187.5 L476.25,180 L466.25,173.75 L461.9,168.1 L446.25,160 Z"/>
  <path fill="#5e5d55" stroke="#5e5d55" stroke-width="1.2" d="M450.6,153.1 L466.25,160.6 L481.9,173.1 L503.75,171.25 L505,177.5 L485,180.6 L476.25,175 L466.25,168.75 L450,157.5 Z"/>
  <path fill="#7f7e73" d="M481.9,173.1 L503.75,171.25 L505,177.5 L485,180.6 Z"/>
  <path fill="#a6a59a" stroke="#5a594f" stroke-width="0.5" d="M450.6,150.6 L457.5,145.6 L473.75,143.5 L488.75,152.5 L505,167.5 L503.75,171.25 L481.9,173.1 L466.25,160.6 L451.25,153.1 Z"/>
  <path d="M488.75,152.8 L466.8,160.6" stroke="#55544c" stroke-width="0.9" fill="none"/>
  <ellipse cx="511.3" cy="171.9" rx="1.7" ry="1.2" fill="#e8e8e8"/>
</g>

<!-- ===== warning icon ===== -->
<defs>
  <linearGradient id="wr" x1="0" y1="0" x2="0" y2="1"><stop offset="0" stop-color="#cf4a4c"/><stop offset="0.7" stop-color="#c2383a"/><stop offset="1" stop-color="#a32629"/></linearGradient>
  <linearGradient id="wi" x1="0" y1="0" x2="0" y2="1"><stop offset="0" stop-color="#f5b4b4"/><stop offset="0.45" stop-color="#fdeeee"/><stop offset="1" stop-color="#ffffff"/></linearGradient>
  <filter id="ib" x="-10%" y="-10%" width="120%" height="120%"><feGaussianBlur stdDeviation="0.4"/></filter>
</defs>
<g filter="url(#ib)">
  <path d="M67.9,556.4 L79.6,577.2 L56.4,577.2 Z" fill="url(#wr)" stroke="url(#wr)" stroke-width="1.4" stroke-linejoin="round"/>
  <path d="M67.9,560.2 L74.9,574.6 L60.9,574.6 Z" fill="url(#wi)"/>
  <path d="M66.9,564 H69 L68.6,571.6 H67.3 Z" fill="#151515"/>
  <rect x="67" y="572.6" width="1.9" height="1.8" rx="0.6" fill="#151515"/>
</g>
</svg>
<div class="t" style="left:51.47px;top:20.15px;font-size:31px;color:#fff;-webkit-text-stroke:0.4px #fff;transform:scaleX(0.8062)">309.11130</div>
<div class="t" style="left:625.81px;top:20.34px;font-size:31px;color:#fff;-webkit-text-stroke:0.4px #fff;transform:scaleX(0.7973)">Brake Pad</div>
<div class="t" style="left:48.81px;top:415.31px;font-size:17px;color:#fff;-webkit-text-stroke:0.35px #fff;transform:scaleX(0.7761)">Inner Brake Pads Specs</div>
<div class="t" style="left:221.42px;top:415.31px;font-size:17px;color:#fff;-webkit-text-stroke:0.35px #fff;transform:scaleX(0.7817)">Outer Brake Pads Specs</div>
<div class="t" style="left:470.81px;top:415.31px;font-size:17px;color:#fff;-webkit-text-stroke:0.35px #fff;transform:scaleX(0.7772)">FMSI #</div>
<div class="t" style="left:638.71px;top:415.31px;font-size:17px;color:#fff;-webkit-text-stroke:0.35px #fff;transform:scaleX(0.7748)">Related Parts</div>
<div class="t" style="left:79.13px;top:442.04px;font-size:13px;color:#111;-webkit-text-stroke:0.4px #111;transform:scaleX(0.7653)">Inner Pad Width:</div>
<div class="t" style="left:161.85px;top:442.04px;font-size:13px;color:#111;-webkit-text-stroke:0.4px #111;transform:scaleX(0.7048)">88.1</div>
<div class="t" style="left:75.53px;top:457.63px;font-size:13px;color:#111;-webkit-text-stroke:0.4px #111;transform:scaleX(0.7670)">Inner Pad Height:</div>
<div class="t" style="left:162.00px;top:457.63px;font-size:13px;color:#111;-webkit-text-stroke:0.4px #111;transform:scaleX(0.7150)">57.8</div>
<div class="t" style="left:42.53px;top:473.34px;font-size:13px;color:#111;-webkit-text-stroke:0.4px #111;transform:scaleX(0.7654)">Inner Pad Thk w/o Shim:</div>
<div class="t" style="left:161.55px;top:473.34px;font-size:13px;color:#111;-webkit-text-stroke:0.4px #111;transform:scaleX(0.7327)">15.5</div>
<div class="t" style="left:62.00px;top:489.04px;font-size:13px;color:#111;-webkit-text-stroke:0.4px #111;transform:scaleX(0.7564)">Sensor Wire Length:</div>
<div class="t" style="left:253.84px;top:442.04px;font-size:13px;color:#111;-webkit-text-stroke:0.4px #111;transform:scaleX(0.7584)">Outer Pad Width:</div>
<div class="t" style="left:338.85px;top:442.04px;font-size:13px;color:#111;-webkit-text-stroke:0.4px #111;transform:scaleX(0.7208)">88.1</div>
<div class="t" style="left:250.34px;top:457.63px;font-size:13px;color:#111;-webkit-text-stroke:0.4px #111;transform:scaleX(0.7595)">Outer Pad Height:</div>
<div class="t" style="left:339.00px;top:457.63px;font-size:13px;color:#111;-webkit-text-stroke:0.4px #111;transform:scaleX(0.7309)">57.8</div>
<div class="t" style="left:217.84px;top:473.34px;font-size:13px;color:#111;-webkit-text-stroke:0.4px #111;transform:scaleX(0.7567)">Outer Pad Thk w/o Shim:</div>
<div class="t" style="left:338.54px;top:473.34px;font-size:13px;color:#111;-webkit-text-stroke:0.4px #111;transform:scaleX(0.7490)">15.5</div>
<div class="t" style="left:423.53px;top:442.04px;font-size:13px;color:#111;-webkit-text-stroke:0.4px #111;transform:scaleX(0.7748)">D1113</div>
<div class="t" style="left:604.24px;top:442.04px;font-size:13px;color:#111;-webkit-text-stroke:0.4px #111;transform:scaleX(0.7489)">Hardware Kit #:</div>
<div class="t" style="left:96.17px;top:552.42px;font-size:15px;color:#111;-webkit-text-stroke:0.35px #111;transform:scaleX(0.8203)">Note 1:</div>
<div class="t" style="left:96.17px;top:571.22px;font-size:15px;color:#111;-webkit-text-stroke:0.35px #111;transform:scaleX(0.8203)">Note 2:</div>
<div class="t" style="left:145.56px;top:553.92px;font-size:15px;color:#be3038;-webkit-text-stroke:0.35px #be3038;transform:scaleX(0.8234)">2 Pads with a wear sensor</div>
<div class="t" style="left:391.94px;top:442.04px;font-size:13px;color:#111;-webkit-text-stroke:0.4px #111;transform:scaleX(0.7554)">FMSI:</div>
<div class="t" style="left:496.12px;top:442.04px;font-size:13px;color:#111;-webkit-text-stroke:0.4px #111;transform:scaleX(0.7790)">FMSI:</div>
<div class="t" style="left:391.94px;top:457.74px;font-size:13px;color:#111;-webkit-text-stroke:0.4px #111;transform:scaleX(0.7554)">FMSI:</div>
<div class="t" style="left:496.12px;top:457.74px;font-size:13px;color:#111;-webkit-text-stroke:0.4px #111;transform:scaleX(0.7790)">FMSI:</div>
<div class="t" style="left:391.94px;top:473.44px;font-size:13px;color:#111;-webkit-text-stroke:0.4px #111;transform:scaleX(0.7554)">FMSI:</div>
<div class="t" style="left:496.12px;top:473.44px;font-size:13px;color:#111;-webkit-text-stroke:0.4px #111;transform:scaleX(0.7790)">FMSI:</div>
<div class="t" style="left:391.94px;top:489.13px;font-size:13px;color:#111;-webkit-text-stroke:0.4px #111;transform:scaleX(0.7554)">FMSI:</div>
<div class="t" style="left:496.12px;top:489.13px;font-size:13px;color:#111;-webkit-text-stroke:0.4px #111;transform:scaleX(0.7790)">FMSI:</div>
<div class="t" style="left:391.94px;top:504.84px;font-size:13px;color:#111;-webkit-text-stroke:0.4px #111;transform:scaleX(0.7554)">FMSI:</div>
<div class="t" style="left:496.12px;top:504.84px;font-size:13px;color:#111;-webkit-text-stroke:0.4px #111;transform:scaleX(0.7790)">FMSI:</div>
<div class="t" style="left:391.94px;top:520.53px;font-size:13px;color:#111;-webkit-text-stroke:0.4px #111;transform:scaleX(0.7554)">FMSI:</div>
<div class="t" style="left:496.12px;top:520.53px;font-size:13px;color:#111;-webkit-text-stroke:0.4px #111;transform:scaleX(0.7790)">FMSI:</div>
<div class="t" style="left:391.94px;top:536.24px;font-size:13px;color:#111;-webkit-text-stroke:0.4px #111;transform:scaleX(0.7554)">FMSI:</div>
<div class="t" style="left:496.12px;top:536.24px;font-size:13px;color:#111;-webkit-text-stroke:0.4px #111;transform:scaleX(0.7790)">FMSI:</div>
</body>
</html>
